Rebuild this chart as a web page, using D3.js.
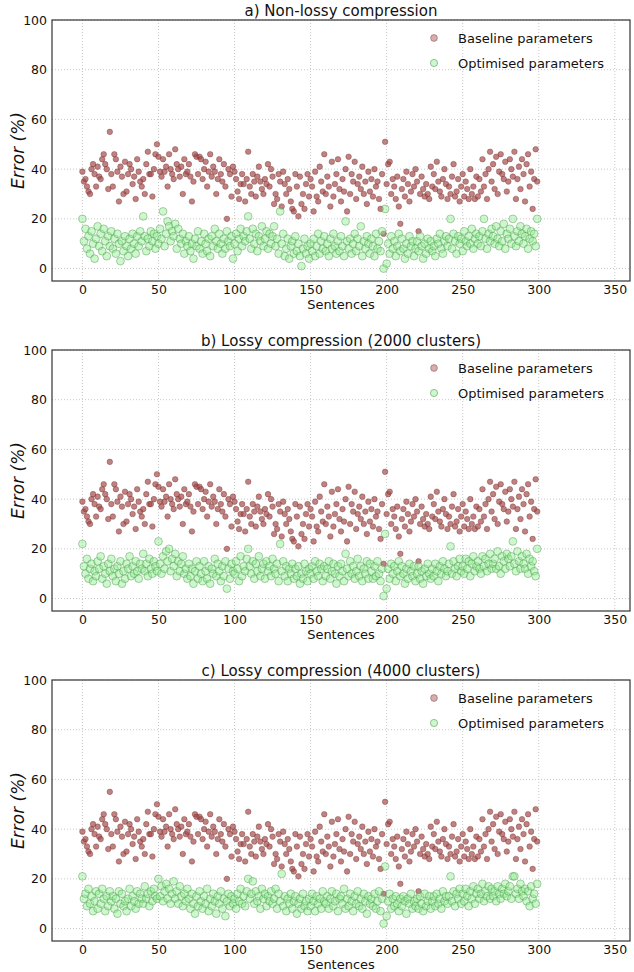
<!DOCTYPE html>
<html lang="en">
<head>
<meta charset="UTF-8">
<script src="https://d3js.org/d3.v7.min.js"></script>
<title>Error per sentence</title>
<style>
  body { margin: 0; background: #fff; }
  text { font-family: "DejaVu Sans", sans-serif; fill: #111; }
</style>
</head>
<body>
<svg id="chart" width="634" height="972"></svg>
<script>
var width = 634, height = 972;

// panel titles and tick labels
var titles = ["a) Non-lossy compression", "b) Lossy compression (2000 clusters)", "c) Lossy compression (4000 clusters)"];
var xTicks = [0, 50, 100, 150, 200, 250, 300, 350];
var yTicks = [0, 20, 40, 60, 80, 100];
var seriesNames = ["Baseline parameters", "Optimised parameters"];

// error (%) per sentence (sentence 0..299)
var baseline = [
  39,35,36,33,31,30,40,42,38,33, 41,37,36,44,46,42,40,32,55,38,
  33,46,44,39,27,41,37,30,43,31, 38,42,40,34,37,28,44,39,35,33,
  36,30,42,47,38,38,29,40,46,50, 45,39,37,44,39,41,33,46,40,38,
  36,48,42,40,37,41,30,44,38,39, 42,37,27,35,46,45,38,45,44,36,
  40,43,33,39,46,37,41,39,30,36, 44,38,35,42,33,20,40,38,29,41,
  39,36,31,28,34,38,34,27,36,47, 33,30,38,35,29,37,41,35,32,30,
  36,34,42,33,40,37,26,30,28,38, 35,25,39,34,30,36,32,27,24,23,
  38,33,21,37,26,30,24,34,38,29, 36,33,23,39,29,27,41,35,31,46,
  30,37,33,25,43,29,34,38,44,32, 27,36,31,40,23,45,30,38,35,43,
  28,34,37,32,41,30,35,26,39,31, 36,29,40,33,35,28,24,38,14,51,
  34,42,43,30,36,33,28,37,25,18, 32,36,29,39,34,27,31,38,33,40,
  35,15,30,37,32,29,34,30,28,41, 33,38,32,43,35,31,29,36,40,34,
  28,33,30,37,42,29,31,36,27,33, 38,29,35,32,28,40,30,33,28,37,
  29,36,31,44,33,38,28,40,47,35, 42,32,45,30,39,46,38,36,43,31,
  35,44,40,37,47,28,36,41,32,44, 38,27,42,46,33,39,24,36,48,35
];

var optimisedA = [
  20,11,16,8,13,6,15,10,4,12, 17,9,14,7,16,11,5,13,9,15,
  8,12,6,14,10,3,11,7,13,9, 5,12,8,14,10,6,13,9,15,11,
  21,13,7,12,9,15,11,14,8,13, 10,16,12,23,9,14,19,17,11,15,
  13,18,8,16,12,10,14,6,11,9, 13,7,10,4,12,9,15,8,11,6,
  14,10,7,12,5,13,9,16,11,8, 14,10,6,12,8,15,11,9,13,4,
  10,14,7,12,16,9,13,11,15,21, 12,8,16,10,14,7,13,11,17,9,
  12,15,8,14,10,13,17,9,12,6, 23,10,14,5,8,12,4,9,11,6,
  13,7,10,5,1,8,12,6,9,4, 10,7,12,5,9,14,6,11,8,13,
  7,10,5,12,8,14,9,6,11,7, 13,9,5,19,11,8,12,6,10,14,
  7,12,9,17,5,11,8,13,10,6, 12,9,5,14,8,11,7,15,0,24,
  2,10,6,13,8,11,5,9,14,7, 12,8,4,10,6,13,9,11,5,8,
  11,7,13,9,4,10,6,12,8,11, 7,9,5,12,10,14,8,6,11,13,
  9,12,20,8,14,11,6,13,10,12, 7,15,11,9,13,10,16,8,12,14,
  10,13,9,15,20,12,8,14,11,16, 13,10,17,12,9,15,11,18,8,14,
  12,16,10,20,13,9,15,11,17,14, 10,13,16,8,12,15,11,14,9,20
];

var optimisedB = [
  22,13,10,16,8,12,14,7,11,9, 15,12,17,8,13,10,6,14,11,16,
  9,12,7,13,10,15,6,11,8,14, 12,17,9,13,10,15,11,8,14,12,
  18,11,14,9,16,12,10,15,13,11, 23,14,10,17,12,19,15,20,11,16,
  13,18,9,15,11,14,17,10,12,8, 14,9,12,6,11,15,8,13,10,7,
  15,11,8,13,6,12,10,16,9,14, 11,7,13,9,15,4,12,8,14,11,
  10,15,12,7,17,9,13,11,16,20, 13,10,15,8,14,11,17,9,12,14,
  8,15,11,13,9,16,12,10,14,7, 22,11,15,9,13,7,12,10,14,8,
  12,9,13,6,10,8,14,11,7,12, 10,13,8,15,11,9,14,12,7,13,
  9,12,15,8,11,14,10,6,13,9, 14,11,7,18,12,9,15,10,13,8,
  11,16,9,13,7,12,10,15,8,14, 11,8,13,9,15,10,7,12,1,26,
  4,12,8,14,10,13,7,11,15,9, 13,10,6,12,8,14,11,9,13,7,
  10,13,8,11,6,12,9,14,10,8, 12,9,14,11,7,13,10,15,12,9,
  11,14,21,10,15,12,9,13,16,11, 13,10,16,12,15,9,14,17,11,13,
  15,12,10,17,13,16,11,14,18,12, 14,16,12,19,13,10,17,15,12,18,
  16,13,17,23,14,11,19,15,12,17, 14,12,18,10,16,13,15,11,9,20
];

var optimisedC = [
  21,12,14,9,16,10,13,7,11,15, 8,14,10,16,12,7,13,9,15,11,
  13,8,12,6,15,10,14,9,11,7, 12,16,9,13,11,8,15,10,14,12,
  10,17,12,14,9,15,11,16,13,12, 20,13,17,11,15,18,12,16,10,14,
  19,12,15,10,17,13,9,14,11,16, 12,8,14,10,6,13,9,15,11,8,
  13,10,16,7,12,9,14,11,6,13, 10,15,8,12,5,11,14,9,13,10,
  12,8,14,11,16,10,13,9,15,20, 12,14,19,10,15,11,13,8,16,12,
  14,9,13,11,15,10,12,16,8,14, 11,22,9,13,7,12,10,14,8,11,
  13,6,10,12,8,14,9,11,7,12, 9,14,11,7,13,10,12,8,15,11,
  10,13,8,12,15,9,11,14,7,12, 13,10,16,8,12,9,14,11,7,13,
  10,15,9,12,8,14,11,6,13,10, 12,9,14,8,11,15,7,12,2,25,
  5,11,14,8,12,9,13,10,7,12, 9,13,11,6,12,10,14,8,11,9,
  12,8,13,10,7,14,9,11,13,8, 11,13,9,14,10,12,8,15,11,13,
  10,13,21,11,15,9,14,12,16,10, 14,11,16,13,9,15,12,17,10,14,
  16,12,14,18,11,15,13,17,12,16, 13,15,11,17,14,12,16,14,18,13,
  15,17,12,21,21,14,16,12,18,15, 13,16,11,15,9,17,12,14,10,18
];

var optimisedSets = [optimisedA, optimisedB, optimisedC];

var svg = d3.select("#chart");
var left = 52, right = 630, plotH = 261;
var panelTops = [20, 350, 680];

var x = d3.scaleLinear().domain([-20, 360]).range([left, right]);

panelTops.forEach(function(top, i) {
  var y = d3.scaleLinear().domain([-5, 100]).range([top + plotH, top]);
  var g = svg.append("g");

  // grid
  g.selectAll(".gx").data(xTicks).join("line")
    .attr("x1", d => x(d)).attr("x2", d => x(d))
    .attr("y1", top).attr("y2", top + plotH)
    .attr("stroke", "#c8c8c8").attr("stroke-dasharray", "1,2");
  g.selectAll(".gy").data(yTicks).join("line")
    .attr("x1", left).attr("x2", right)
    .attr("y1", d => y(d)).attr("y2", d => y(d))
    .attr("stroke", "#c8c8c8").attr("stroke-dasharray", "1,2");

  // axes
  var xAxis = g.append("g").attr("transform", "translate(0," + (top + plotH) + ")")
    .call(d3.axisBottom(x).tickValues(xTicks).tickSize(0).tickPadding(4));
  var yAxis = g.append("g").attr("transform", "translate(" + left + ",0)")
    .call(d3.axisLeft(y).tickValues(yTicks).tickSize(0).tickPadding(5));
  [xAxis, yAxis].forEach(function(a) {
    a.select(".domain").remove();
    a.selectAll("text").attr("font-size", 12.5).attr("font-family", "DejaVu Sans, sans-serif").attr("fill", "#111");
  });

  // points
  g.append("g").selectAll("circle").data(baseline).join("circle")
    .attr("cx", (d, k) => x(k)).attr("cy", d => y(d)).attr("r", 2.8)
    .attr("fill", "#a54b4b").attr("fill-opacity", 0.7)
    .attr("stroke", "#6e2a2a").attr("stroke-opacity", 0.6).attr("stroke-width", 0.6);
  g.append("g").selectAll("circle").data(optimisedSets[i]).join("circle")
    .attr("cx", (d, k) => x(k)).attr("cy", d => y(d)).attr("r", 3.9)
    .attr("fill", "#90ee90").attr("fill-opacity", 0.45)
    .attr("stroke", "#3f8a3f").attr("stroke-opacity", 0.5).attr("stroke-width", 0.8);

  // frame
  g.append("rect").attr("x", left).attr("y", top).attr("width", right - left).attr("height", plotH)
    .attr("fill", "none").attr("stroke", "#333").attr("stroke-width", 1.2);

  // title and axis labels
  g.append("text").attr("x", (left + right) / 2).attr("y", top - 4)
    .attr("text-anchor", "middle").attr("font-size", 15).text(titles[i]);
  g.append("text").attr("x", (left + right) / 2).attr("y", top + plotH + 28)
    .attr("text-anchor", "middle").attr("font-size", 13).text("Sentences");
  g.append("text").attr("transform", "translate(24," + (top + plotH / 2) + ") rotate(-90)")
    .attr("text-anchor", "middle").attr("font-size", 17).attr("font-style", "italic").text("Error (%)");

  // legend
  var leg = g.append("g").attr("transform", "translate(434," + (top + 18) + ")");
  leg.append("circle").attr("cx", 0).attr("cy", 0).attr("r", 3.4)
    .attr("fill", "#a54b4b").attr("fill-opacity", 0.45).attr("stroke", "#6e2a2a").attr("stroke-opacity", 0.4);
  leg.append("circle").attr("cx", 0).attr("cy", 25).attr("r", 3.6)
    .attr("fill", "#90ee90").attr("fill-opacity", 0.45).attr("stroke", "#3f8a3f").attr("stroke-opacity", 0.5);
  leg.selectAll("text").data(seriesNames).join("text")
    .attr("x", 24).attr("y", (d, k) => k * 25 + 5)
    .attr("font-size", 13).text(d => d);
});
</script>
</body>
</html>
